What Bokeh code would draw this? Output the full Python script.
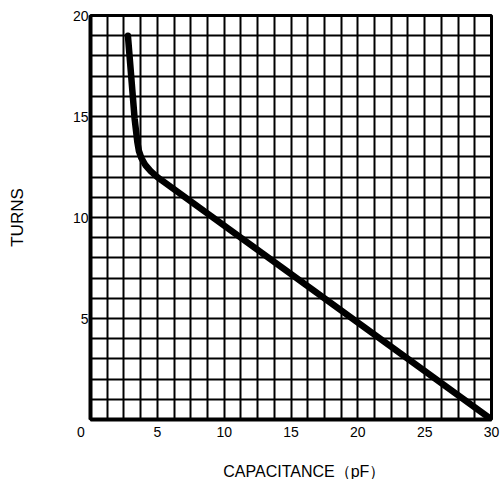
from bokeh.plotting import figure
from bokeh.models import FixedTicker
from bokeh.embed import file_html
from bokeh.resources import INLINE

# Data
cap_pf = [2.8, 3.3, 3.5, 3.62, 3.8, 4.1, 4.5, 5.0, 30.0]
turns = [19.0, 14.9, 13.75, 13.3, 12.95, 12.6, 12.3, 12.0, 0.0]

x_tick_values = [0, 5, 10, 15, 20, 25, 30]
y_tick_values = [0, 5, 10, 15, 20]
x_grid_step = 1.25
y_grid_step = 1.0
x_title = "CAPACITANCE（pF）"
y_title = "TURNS"

grid_x = [i * x_grid_step for i in range(int(30 / x_grid_step) + 1)]
grid_y = [i * y_grid_step for i in range(int(20 / y_grid_step) + 1)]

p = figure(frame_width=401, frame_height=404, x_range=(0, 30), y_range=(0, 20),
           output_backend="svg", toolbar_location=None,
           min_border_left=90, min_border_right=10,
           min_border_top=15, min_border_bottom=60)
p.background_fill_color = "white"
p.border_fill_color = "white"
p.outline_line_color = "black"
p.outline_line_width = 3
p.outline_line_alpha = 1.0

p.xgrid.ticker = FixedTicker(ticks=grid_x)
p.ygrid.ticker = FixedTicker(ticks=grid_y)
for g in (p.xgrid, p.ygrid):
    g.grid_line_color = "black"
    g.grid_line_width = 2
    g.grid_line_alpha = 1.0

for ax, ticks in ((p.xaxis, x_tick_values), (p.yaxis, y_tick_values)):
    ax.ticker = FixedTicker(ticks=ticks)
    ax.major_tick_in = 0
    ax.major_tick_out = 0
    ax.minor_tick_in = 0
    ax.minor_tick_out = 0
    ax.axis_line_color = "black"
    ax.axis_line_width = 4
    ax.major_label_text_font = "Liberation Sans"
    ax.major_label_text_font_size = "14px"
    ax.major_label_text_color = "black"
    ax.axis_label_text_font = "Liberation Sans"
    ax.axis_label_text_font_style = "normal"
    ax.axis_label_text_color = "black"

# the shared origin label "0" sits below-left of the corner
p.yaxis.major_label_overrides = {0: ""}
p.xaxis.major_label_overrides = {0: "0" + "\u00a0" * 5}

p.xaxis.major_label_standoff = 4
p.xaxis.axis_label = "\u00a0" * 6 + x_title
p.xaxis.axis_label_text_font_size = "16px"
p.xaxis.axis_label_standoff = 20

p.yaxis.major_label_standoff = 2
p.yaxis.axis_label = y_title
p.yaxis.axis_label_text_font_size = "17px"
p.yaxis.axis_label_standoff = 43

p.line(cap_pf, turns, line_width=6.5, color="black",
       line_join="round", line_cap="round")

open("out.html", "w").write(file_html(p, INLINE))
